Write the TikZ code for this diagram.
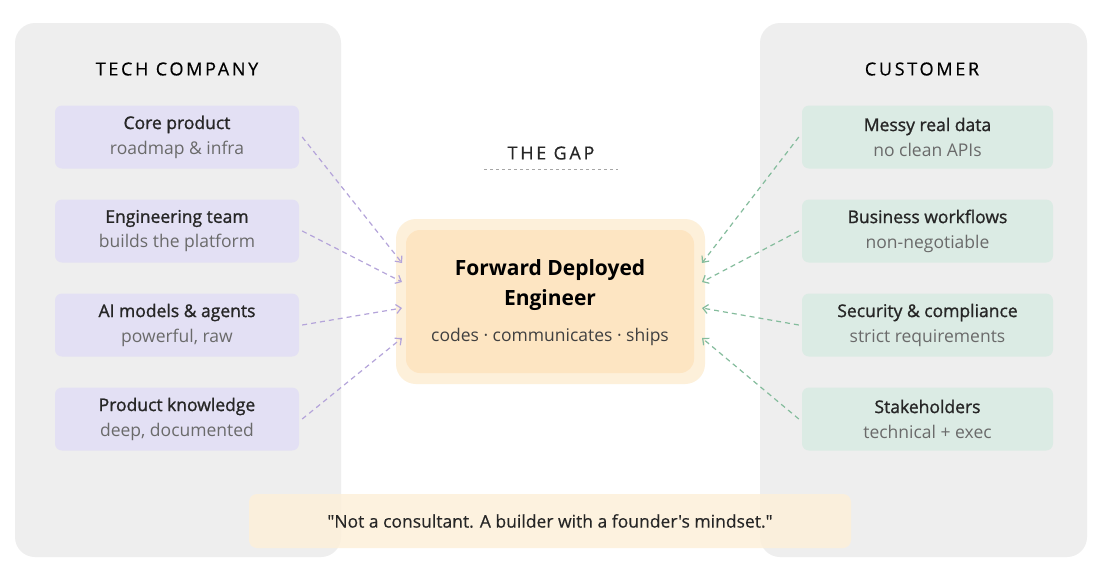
\documentclass[tikz,border=0pt]{standalone}
\usepackage{fontspec}
\setmainfont{Open Sans}
\newfontfamily\qfont{Open Sans}
\usetikzlibrary{arrows.meta}
\newcommand{\hd}[1]{{\addfontfeatures{FakeBold=1.2}#1}}
\begin{document}
\begin{tikzpicture}[x=1pt,y=-1pt,
  panel/.style={fill=gray!13,rounded corners=20pt},
  lbox/.style={fill=lav,rounded corners=7pt,minimum width=244pt,minimum height=63pt,align=center,font=\fontsize{17.5}{25}\selectfont,inner sep=0pt},
  rbox/.style={lbox,fill=mint,minimum width=251pt},
  ttl/.style={font=\fontsize{18}{22}\selectfont\addfontfeatures{LetterSpace=15,FakeBold=0.5}},
  larr/.style={draw=larc,dash pattern=on 5pt off 4pt,line width=1.2pt,-{Straight Barb[length=5pt,width=9pt]}},
  rarr/.style={larr,draw=rarc}]
\definecolor{lav}{HTML}{E3E0F4}
\definecolor{mint}{HTML}{DBEBE4}
\definecolor{larc}{HTML}{B4A4DA}
\definecolor{rarc}{HTML}{84BC9C}
\definecolor{sub}{HTML}{6A6A6A}
\definecolor{glow}{HTML}{FDF0DA}
\definecolor{core}{HTML}{FDE5C2}
\useasboundingbox (0,0) rectangle (1100,574);
\fill[white] (0,0) rectangle (1100,574);
\fill[panel] (15,23) rectangle (341,557);
\fill[panel] (760,23) rectangle (1087,557);
\node[ttl] (tl) at (177,69) {TECH COMPANY};
\node[ttl] (tr) at (922,69) {CUSTOMER};
\node[ttl,text=black!85] (gap) at (551,153) {THE GAP};
\draw[gray!70,dashed] (484,169) -- (618,169);
\foreach \n/\y/\a/\b in {1/137/{Core product}/{roadmap \& infra},2/231/{Engineering team}/{builds the platform},3/325/{AI models \& agents}/{powerful, raw},4/419/{Product knowledge}/{deep, documented}}
  \node[lbox] (l\n) at (177,\y) {\textcolor{black!85}{\hd{\a}}\\\textcolor{sub}{\b}};
\foreach \n/\y/\a/\b in {1/137/{Messy real data}/{no clean APIs},2/231/{Business workflows}/{non-negotiable},3/325/{Security \& compliance}/{strict requirements},4/419/{Stakeholders}/{technical + exec}}
  \node[rbox] (r\n) at (927.5,\y) {\textcolor{black!85}{\hd{\a}}\\\textcolor{sub}{\b}};
\fill[glow,rounded corners=20pt] (396,219) rectangle (705,384);
\node[fill=core,rounded corners=14pt,minimum width=288pt,minimum height=143pt] (fde) at (550,301.5) {};
\node[align=center,font=\fontsize{21}{30}\selectfont\bfseries] at (550,285) {Forward Deployed\\Engineer};
\node[font=\fontsize{17.5}{22}\selectfont,text=black!75] at (550,337) {codes · communicates · ships};
\coordinate (el1) at (402,263); \coordinate (el2) at (402,282);
\coordinate (el3) at (402,308); \coordinate (el4) at (402,338);
\coordinate (er1) at (702,263); \coordinate (er2) at (702,282);
\coordinate (er3) at (702,308); \coordinate (er4) at (702,338);
\foreach \n in {1,...,4}{
  \draw[larr] ([xshift=3pt]l\n.east) -- (el\n);
  \draw[rarr] ([xshift=-3pt]r\n.west) -- (er\n);
}
\node[fill=glow,fill opacity=0.85,text opacity=1,rounded corners=8pt,minimum width=602pt,minimum height=54pt,font=\qfont\fontsize{17.5}{22}\selectfont\addfontfeatures{FakeBold=0.4},text=black!85] (q) at (550,521) {"Not a consultant. A builder with a founder's mindset."};
\end{tikzpicture}
\end{document}
